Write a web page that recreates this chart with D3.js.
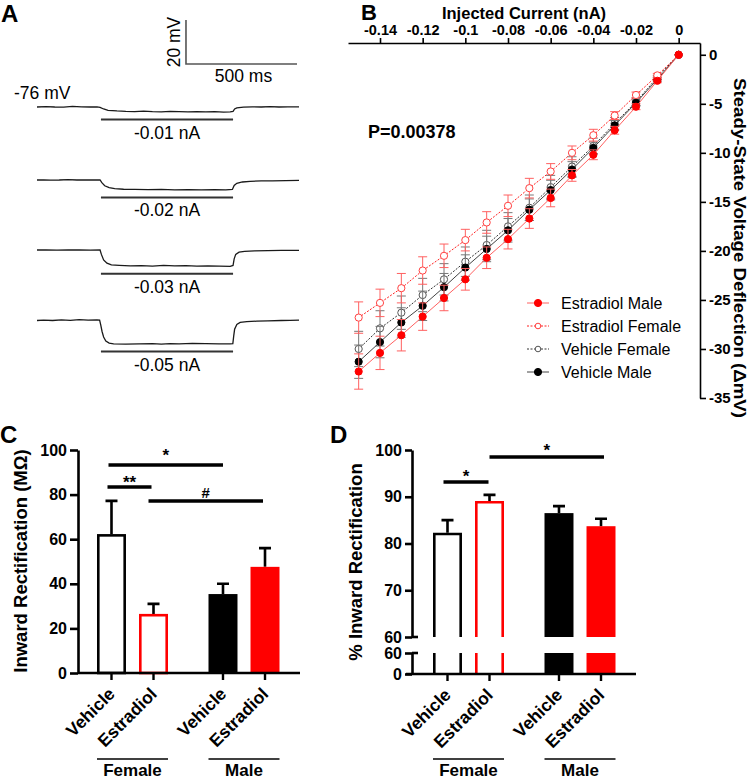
<!DOCTYPE html>
<html><head><meta charset="utf-8">
<script src="https://cdn.jsdelivr.net/npm/d3@7"></script>
<style>
body{margin:0;background:#fff}
svg{display:block}
text{font-family:"Liberation Sans",Arial,Helvetica,sans-serif;fill:#000}
</style>
</head><body>
<svg id="fig" width="749" height="779"></svg>
<script>
// ---------------- DATA ----------------
// Panel A: example traces (time ms, deflection mV from rest)
const restLabel = "-76 mV";
const traceCurrents = ["-0.01 nA", "-0.02 nA", "-0.03 nA", "-0.05 nA"];
const trace1 = [[0,0],[40,0.2],[80,0],[120,-0.1],[160,0.3],[200,0.1],[240,0],[270,0.1],[284,-0.2],[300,-0.9],[320,-1.5],[360,-1.8],[400,-2.0],[440,-2.1],[480,-1.9],[520,-2.1],[560,-2.2],[600,-2.0],[640,-2.1],[680,-2.2],[720,-2.1],[760,-2.2],[800,-2.1],[840,-2.3],[870,-2.2],[883,-2.0],[890,-0.9],[900,-0.4],[930,-0.1],[970,0.1],[1010,0],[1050,0.2],[1090,0],[1130,0.1],[1180,0.1]];
const trace2 = [[0,0],[30,0.1],[60,-0.1],[100,0],[140,0.2],[180,0],[220,0.1],[260,0],[284,0],[292,-1.2],[305,-2.6],[325,-3.5],[350,-3.9],[390,-4.2],[440,-4.3],[500,-4.4],[560,-4.3],[620,-4.5],[680,-4.4],[740,-4.5],[800,-4.4],[850,-4.5],[880,-4.3],[888,-2.5],[900,-1.5],[925,-0.9],[960,-0.6],[1010,-0.4],[1060,-0.4],[1120,-0.3],[1180,-0.2]];
const trace3 = [[0,0],[40,0.1],[90,-0.1],[140,0],[190,0.1],[240,-0.1],[284,0],[290,-2],[300,-4.5],[315,-6.0],[335,-6.8],[370,-7.0],[420,-7.2],[470,-7.1],[520,-7.3],[570,-7.0],[620,-7.2],[670,-7.1],[720,-7.3],[770,-7.2],[820,-7.3],[870,-7.4],[883,-7.0],[888,-4],[895,-2.0],[910,-1.0],[935,-0.6],[980,-0.4],[1040,-0.3],[1100,-0.2],[1180,-0.2]];
const trace4 = [[0,0],[30,0.2],[70,0],[110,0.3],[150,0.1],[190,0.4],[230,0.2],[270,0.3],[282,0.2],[287,-2],[293,-5],[300,-7.5],[310,-9.3],[325,-10.3],[345,-10.6],[400,-10.7],[460,-10.6],[520,-10.5],[560,-10.7],[600,-10.5],[640,-10.6],[700,-10.4],[760,-10.5],[820,-10.6],[870,-10.6],[882,-10.5],[886,-7],[890,-4],[900,-1.8],[915,-0.9],[945,-0.5],[990,-0.3],[1040,-0.2],[1100,0],[1140,0.1],[1180,0.2]];
const traces = [trace1, trace2, trace3, trace4];
const stepOn = 288, stepOff = 883;
const scaleBarMs = 500, scaleBarMv = 20;

// Panel B: I-V data
const currents = [0,-0.01,-0.02,-0.03,-0.04,-0.05,-0.06,-0.07,-0.08,-0.09,-0.10,-0.11,-0.12,-0.13,-0.14,-0.15];
const estMale      = [0,-2.65,-5.3,-7.7,-10.2,-12.3,-14.6,-16.7,-18.8,-20.7,-22.9,-24.8,-26.7,-28.6,-30.4,-32.3];
const estMaleErr   = [0,0.2,0.3,0.4,0.5,0.6,0.9,1.0,1.0,1.1,1.1,1.3,1.4,1.6,1.7,1.8];
const estFemale    = [0,-2.1,-4.1,-6.2,-8.2,-10.0,-11.9,-13.6,-15.4,-17.1,-18.9,-20.5,-22.0,-23.8,-25.3,-26.8];
const estFemaleErr = [0,0.2,0.3,0.4,0.6,0.7,0.8,1.0,1.1,1.1,1.1,1.2,1.4,1.5,1.4,1.6];
const vehFemale    = [0,-2.3,-4.8,-7.0,-9.3,-11.4,-13.5,-15.6,-17.5,-19.4,-21.1,-22.9,-24.5,-26.3,-27.9,-30.0];
const vehFemaleErr = [0,0.2,0.4,0.6,0.8,1.0,1.2,1.3,1.4,1.5,1.5,1.6,1.7,1.7,1.8,1.8];
const vehMale      = [0,-2.5,-4.9,-7.2,-9.5,-11.7,-13.8,-15.8,-17.9,-19.8,-21.7,-23.7,-25.6,-27.3,-29.3,-31.3];
const vehMaleErr   = [0,0.2,0.3,0.5,0.6,0.8,1.0,1.1,1.2,1.3,1.3,1.4,1.5,1.5,1.6,1.7];
const seriesNames  = ["Estradiol Male","Estradiol Female","Vehicle Female","Vehicle Male"];
const currentTicks = [-0.14,-0.12,-0.1,-0.08,-0.06,-0.04,-0.02,0];
const voltTicks    = [0,-5,-10,-15,-20,-25,-30,-35];
const pValue = "P=0.00378";

// Panels C & D: bar data
const sexes      = ["Female","Male"];
const treatments = ["Vehicle","Estradiol"];
const rectMOhm    = [62.3, 26.5, 35.4, 47.6];   // F-Veh, F-E2, M-Veh, M-E2
const rectMOhmErr = [14.9, 4.5, 4.6, 8.4];
const rectPct     = [82.3, 89.1, 86.5, 83.7];
const rectPctErr  = [2.7, 1.3, 1.5, 1.6];
const ticksC = [0,20,40,60,80,100];
const ticksDUpper = [60,70,80,90,100];
const ticksDLower = [0,60];

// ---------------- DRAWING ----------------
const svg = d3.select("#fig");
const RED = "#ff0000";

function panelLabel(t,x,y,fs){
  svg.append("text").attr("x",x).attr("y",y).attr("font-size",fs).attr("font-weight","bold").text(t);
}
panelLabel("A",1,22,24); panelLabel("B",361,20,22); panelLabel("C",0,443,24); panelLabel("D",330,443,24);

// ===== Panel A =====
const tX = d3.scaleLinear().domain([0,1180]).range([37,299]);
const mvY = d3.scaleLinear().domain([0,-20]).range([0,44]);
const traceBase = [107,180,250,320.5];
const tLine = d3.line().x(d=>tX(d[0])).y(d=>mvY(d[1]));
traces.forEach((tr,i)=>{
  const g = svg.append("g").attr("transform",`translate(0,${traceBase[i]})`);
  g.append("path").datum(tr).attr("d",tLine).attr("fill","none").attr("stroke","#1a1a1a").attr("stroke-width",1.3);
  const minV = d3.min(tr,d=>d[1]);
  const by = mvY(minV)+7.5;
  g.append("line").attr("x1",tX(stepOn)).attr("x2",tX(stepOff)).attr("y1",by).attr("y2",by)
    .attr("stroke","#333").attr("stroke-width",2);
  g.append("text").attr("x",(tX(stepOn)+tX(stepOff))/2).attr("y",by+19).attr("text-anchor","middle")
    .attr("font-size",17.5).text(traceCurrents[i]);
});
svg.append("text").attr("x",14).attr("y",99).attr("font-size",17.5).text(restLabel);
// scale bar
const sb0 = 671, sbY = 64;
svg.append("path").attr("d",`M${tX(sb0)},${sbY-mvY(-scaleBarMv)}V${sbY}H${tX(sb0+scaleBarMs)}`)
  .attr("fill","none").attr("stroke","#555").attr("stroke-width",1.6);
svg.append("text").attr("transform",`translate(${tX(sb0)-6},${sbY-mvY(-scaleBarMv)/2}) rotate(-90)`)
  .attr("text-anchor","middle").attr("font-size",17.5).text(scaleBarMv+" mV");
svg.append("text").attr("x",tX(sb0+scaleBarMs/2)+2).attr("y",82).attr("text-anchor","middle")
  .attr("font-size",17.5).text(scaleBarMs+" ms");

// ===== Panel B =====
const xB = d3.scaleLinear().domain([-0.155,0.01]).range([348,700]);
const yB = d3.scaleLinear().domain([1.2,-35]).range([43,398]);
const fmtI = d=>String(+(+d).toFixed(2));
const axT = svg.append("g").attr("transform","translate(0,43)")
  .call(d3.axisTop(xB).tickValues(currentTicks).tickSize(5).tickSizeOuter(0).tickPadding(3).tickFormat(fmtI));
axT.selectAll("text").attr("font-size",14.5).attr("font-weight","bold").attr("font-family","Liberation Sans, Arial, sans-serif");
const axR = svg.append("g").attr("transform","translate(700,0)")
  .call(d3.axisRight(yB).tickValues(voltTicks).tickSize(6).tickSizeOuter(0).tickPadding(3).tickFormat(d=>String(d)));
axR.selectAll("text").attr("font-size",15).attr("font-weight","bold").attr("font-family","Liberation Sans, Arial, sans-serif");
[axT,axR].forEach(a=>{a.selectAll("path,line").attr("stroke","#000").attr("stroke-width",1.6);});
svg.append("text").attr("x",524).attr("y",19).attr("text-anchor","middle").attr("font-size",16.5)
  .attr("font-weight","bold").text("Injected Current (nA)");
svg.append("text").attr("transform","translate(734,248) rotate(90)").attr("text-anchor","middle")
  .attr("font-size",17).attr("font-weight","bold")
  .attr("textLength",340).attr("lengthAdjust","spacingAndGlyphs")
  .text("Steady-State Voltage Deflection (\u0394mV)");
svg.append("text").attr("x",368).attr("y",138).attr("font-size",18).attr("font-weight","bold").text(pValue);

const seriesDefs = [
  {name:seriesNames[2], v:vehFemale, e:vehFemaleErr, line:"#333", dash:"2,1.5", err:"#777", fill:"#fff", stroke:"#555"},
  {name:seriesNames[3], v:vehMale, e:vehMaleErr, line:"#444", dash:null, err:"#777", fill:"#000", stroke:"#000"},
  {name:seriesNames[1], v:estFemale, e:estFemaleErr, line:"#ff2020", dash:"2,1.5", err:"#ff6060", fill:"#fff", stroke:"#ff4040"},
  {name:seriesNames[0], v:estMale, e:estMaleErr, line:"#ff6060", dash:null, err:"#ff6060", fill:RED, stroke:RED}
];
const lineB = d3.line().x((d,i)=>xB(currents[i])).y(d=>yB(d));
seriesDefs.forEach(s=>{
  const g = svg.append("g");
  currents.forEach((c,i)=>{
    if(s.e[i]<=0) return;
    const x=xB(c), y1=yB(s.v[i]-s.e[i]), y2=yB(s.v[i]+s.e[i]);
    g.append("path").attr("d",`M${x},${y1}V${y2}M${x-4.5},${y1}H${x+4.5}M${x-4.5},${y2}H${x+4.5}`)
      .attr("stroke",s.err).attr("stroke-width",1).attr("fill","none");
  });
  g.append("path").datum(s.v).attr("d",lineB).attr("fill","none").attr("stroke",s.line)
    .attr("stroke-width",1).attr("stroke-dasharray",s.dash);
  g.selectAll("circle").data(s.v).join("circle").attr("cx",(d,i)=>xB(currents[i])).attr("cy",d=>yB(d))
    .attr("r",3.6).attr("fill",s.fill).attr("stroke",s.stroke).attr("stroke-width",1);
});
// legend
const legOrder = [seriesDefs[3],seriesDefs[2],seriesDefs[0],seriesDefs[1]];
legOrder.forEach((s,i)=>{
  const y = 303 + i*23;
  svg.append("line").attr("x1",527).attr("x2",549).attr("y1",y).attr("y2",y).attr("stroke",s.line)
    .attr("stroke-width",1).attr("stroke-dasharray",s.dash);
  svg.append("circle").attr("cx",538).attr("cy",y).attr("r",s.fill==="#fff"?2.8:3.6).attr("fill",s.fill).attr("stroke",s.stroke);
  svg.append("text").attr("x",561).attr("y",y).attr("dy","0.36em").attr("font-size",16).text(s.name);
});

// ===== Panels C & D helpers =====
function barScales(x0){
  const outer = d3.scaleBand().domain(sexes).range([x0,x0+111.5+71]).paddingInner(40.5/111.5).paddingOuter(0);
  const inner = d3.scaleBand().domain(treatments).range([0,outer.bandwidth()]).paddingInner(0.31).paddingOuter(0);
  const keys = [];
  sexes.forEach(s=>treatments.forEach(t=>keys.push({sex:s,tr:t})));
  keys.forEach(k=>{k.x=outer(k.sex)+inner(k.tr); k.w=inner.bandwidth(); k.cx=k.x+k.w/2;});
  return {outer,inner,keys};
}
function styleAxis(g){
  g.selectAll("path,line").attr("stroke","#000").attr("stroke-width",2.6);
  g.selectAll("text").attr("font-size",16).attr("font-weight","bold").attr("font-family","Liberation Sans, Arial, sans-serif");
}
function xCats(keys, axisY, x1, x2, outer){
  svg.append("line").attr("x1",x1).attr("x2",x2).attr("y1",axisY).attr("y2",axisY).attr("stroke","#000").attr("stroke-width",2.6);
  keys.forEach(k=>{
    svg.append("line").attr("x1",k.cx).attr("x2",k.cx).attr("y1",axisY).attr("y2",axisY+7).attr("stroke","#000").attr("stroke-width",2.4);
    svg.append("text").attr("transform",`translate(${k.cx+4.5},${axisY+22}) rotate(-45)`).attr("text-anchor","end")
      .attr("font-size",17.5).attr("font-weight","bold").text(k.tr);
  });
  sexes.forEach(s=>{
    const a=outer(s), b=a+outer.bandwidth();
    svg.append("line").attr("x1",a).attr("x2",b).attr("y1",759).attr("y2",759).attr("stroke","#000").attr("stroke-width",1.6);
    svg.append("text").attr("x",(a+b)/2).attr("y",776).attr("text-anchor","middle").attr("font-size",17).attr("font-weight","bold").text(s);
  });
}
function sigBar(x1,x2,y,label,ly,fs){
  svg.append("line").attr("x1",x1).attr("x2",x2).attr("y1",y).attr("y2",y).attr("stroke","#000").attr("stroke-width",3.5);
  svg.append("text").attr("x",(x1+x2)/2).attr("y",ly).attr("text-anchor","middle").attr("font-size",fs).attr("font-weight","bold").text(label);
}
const barFill = [null,null,"#000",RED];
const barStroke = ["#000",RED,"#000",RED];

// ===== Panel C =====
const yC = d3.scaleLinear().domain([0,100]).range([673,450]);
const bC = barScales(97);
const axC = svg.append("g").attr("transform","translate(78,0)")
  .call(d3.axisLeft(yC).tickValues(ticksC).tickSize(8).tickSizeOuter(0).tickPadding(3));
styleAxis(axC);
bC.keys.forEach((k,i)=>{
  svg.append("path").attr("d",`M${k.cx},${yC(rectMOhm[i])}V${yC(rectMOhm[i]+rectMOhmErr[i])}M${k.cx-6},${yC(rectMOhm[i]+rectMOhmErr[i])}H${k.cx+6}`)
    .attr("stroke","#000").attr("stroke-width",2.6).attr("fill","none");
  const r = svg.append("rect").attr("x",k.x).attr("width",k.w).attr("y",yC(rectMOhm[i])).attr("height",yC(0)-yC(rectMOhm[i]));
  if(barFill[i]) r.attr("fill",barFill[i]);
  else r.attr("fill","#fff").attr("stroke",barStroke[i]).attr("stroke-width",2.6)
        .attr("x",k.x+1.3).attr("width",k.w-2.6).attr("y",yC(rectMOhm[i])+1.3).attr("height",yC(0)-yC(rectMOhm[i])-1.3);
});
xCats(bC.keys,673,78,300,bC.outer);
svg.append("text").attr("transform","translate(27,561) rotate(-90)").attr("text-anchor","middle")
  .attr("font-size",18.5).attr("font-weight","bold").text("Inward Rectification (M\u03A9)");
sigBar(bC.keys[0].cx-3, bC.keys[2].cx, 465, "*", 461, 17);
sigBar(bC.keys[0].cx-4, bC.keys[1].cx-2, 487, "**", 488, 17);
sigBar(bC.keys[1].cx-5, bC.keys[3].cx-2, 501, "#", 498, 15);

// ===== Panel D =====
const yDu = d3.scaleLinear().domain([60,100]).range([637,450]);
const yDl = d3.scaleLinear().domain([0,60]).range([674,653]);
const bD = barScales(433);
const axDu = svg.append("g").attr("transform","translate(412,0)")
  .call(d3.axisLeft(yDu).tickValues(ticksDUpper).tickSize(7).tickSizeOuter(0).tickPadding(3));
const axDl = svg.append("g").attr("transform","translate(412,0)")
  .call(d3.axisLeft(yDl).tickValues(ticksDLower).tickSize(7).tickSizeOuter(0).tickPadding(3));
styleAxis(axDu); styleAxis(axDl);
[yDu(60), yDl(60)].forEach(y=>{
  svg.append("line").attr("x1",412).attr("x2",418).attr("y1",y).attr("y2",y).attr("stroke","#000").attr("stroke-width",2.6);
});
bD.keys.forEach((k,i)=>{
  const top = yDu(rectPct[i]), et = yDu(rectPct[i]+rectPctErr[i]);
  svg.append("path").attr("d",`M${k.cx},${top}V${et}M${k.cx-6},${et}H${k.cx+6}`)
    .attr("stroke","#000").attr("stroke-width",2.6).attr("fill","none");
  if(barFill[i]){
    svg.append("rect").attr("x",k.x).attr("width",k.w).attr("y",top).attr("height",yDu(60)-top).attr("fill",barFill[i]);
    svg.append("rect").attr("x",k.x).attr("width",k.w).attr("y",yDl(60)).attr("height",yDl(0)-yDl(60)).attr("fill",barFill[i]);
  } else {
    const l=k.x+1.3, rr=k.x+k.w-1.3, t=top+1.3;
    svg.append("path").attr("d",`M${l},${yDu(60)}V${t}H${rr}V${yDu(60)}`).attr("fill","#fff")
      .attr("stroke",barStroke[i]).attr("stroke-width",2.6);
    svg.append("path").attr("d",`M${l},${yDl(60)}V${yDl(0)}M${rr},${yDl(60)}V${yDl(0)}`).attr("fill","none")
      .attr("stroke",barStroke[i]).attr("stroke-width",2.6);
  }
});
xCats(bD.keys,674,406,636,bD.outer);
svg.append("text").attr("transform","translate(362,562) rotate(-90)").attr("text-anchor","middle")
  .attr("font-size",18.5).attr("font-weight","bold").text("% Inward Rectification");
sigBar(bD.keys[0].cx-4, bD.keys[1].cx-1, 482, "*", 482, 17);
sigBar(bD.keys[1].cx, bD.keys[2].cx+45, 457, "*", 456, 17);
</script>
</body></html>
